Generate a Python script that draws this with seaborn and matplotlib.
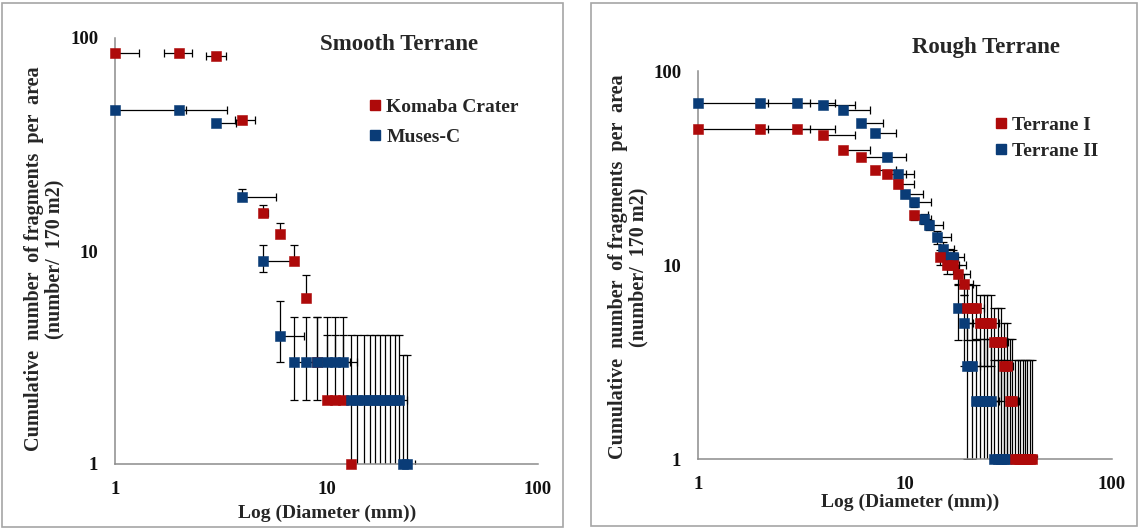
import matplotlib
matplotlib.use("Agg")
import matplotlib.pyplot as plt
import seaborn as sns
from matplotlib.lines import Line2D
from matplotlib.patches import Rectangle
from matplotlib.ticker import FixedLocator, NullLocator, FixedFormatter

# ---------------- data ----------------
# Smooth terrane: Komaba Crater
komaba_d = [1, 2, 3, 4, 5, 6, 7, 8, 9, 10, 11, 12, 13]
komaba_n = [85, 85, 82, 41, 15, 12, 9, 6, 3, 2, 2, 2, 1]
komaba_dx_lo = [0, 0.3, 0.3, 0.3, 0, 0, 0, 0, 0, 0, 0, 0, 0]
komaba_dx_hi = [0.3, 0.3, 0.35, 0.6, 0.3, 0, 0, 0, 0, 0, 0, 0, 0]
komaba_dn_lo = [0, 0, 0, 0, 0, 0, 0, 0, 1, 0, 0, 0, 0]
komaba_dn_hi = [0, 0, 0, 0, 1.5, 1.6, 1.7, 1.7, 1.9, 2.05, 2.05, 2.05, 0]

# Smooth terrane: Muses-C
muses_d = [1, 2, 3, 4, 5, 6, 7, 8, 9, 10, 11, 12,
           13, 14, 15, 16, 17, 18, 19, 20, 21, 22, 23, 24]
muses_n = [46, 46, 40, 18, 9, 4, 3, 3, 3, 3, 3, 3,
           2, 2, 2, 2, 2, 2, 2, 2, 2, 2, 1, 1]
muses_dx_lo = [0] * 24
muses_dx_hi = [1.17, 1.4, 0.75, 1.75, 1.95, 1.8, 1.9, 1.9, 1.9, 1.9, 1.9, 1.9,
               2, 2, 2, 2, 2, 2, 2, 2, 2, 2, 2.1, 2.1]
muses_dn_lo = [0, 0, 0, 0.3, 1.0, 1.0, 1, 1, 0, 0, 0, 0,
               1.95, 1.95, 1.95, 1.95, 1.95, 1.95, 1.95, 1.95, 1.95, 1.95, 0.95, 0.95]
muses_dn_hi = [0, 0, 0, 1.5, 1.7, 1.8, 1.9, 1.9, 1.9, 1.9, 1.9, 1.9,
               2.05, 2.05, 2.05, 2.05, 2.05, 2.05, 2.05, 2.05, 2.05, 2.05, 2.26, 2.26]

# Rough terrane: Terrane I
t1_d = [1, 2, 3, 4, 5, 6.1, 7.2, 8.2, 9.2, 11, 14.8, 16, 17, 18.1, 19.2,
        20, 21, 22, 23, 24, 25, 26, 27, 28, 29, 30, 31, 32, 33,
        34, 35, 36, 37, 38, 39, 40, 41]
t1_n = [50, 50, 50, 47, 39, 36, 31, 29.5, 26, 18, 11, 10, 10, 9, 8,
        6, 6, 6, 5, 5, 5, 5, 4, 4, 4, 3, 3, 2, 2,
        1, 1, 1, 1, 1, 1, 1, 1]
t1_dx_lo = [0] * 37
t1_dx_hi = [1.17, 1.47, 1.6, 1.75, 1.8, 1.75, 1.8, 1.9, 1.8, 1.9, 2, 2.2, 2.8, 2.5, 2.1,
            2, 2, 2, 2.3, 2.3, 2.3, 2.3, 2.6, 2.6, 2.6, 2.4, 2.4, 2.7, 2.7,
            2.5, 2.5, 2.5, 2.5, 2.5, 2.5, 2.5, 2.5]
t1_dn_lo = [0, 0, 0, 0, 0, 0, 0, 0, 1, 1, 1, 1, 1, 1, 1,
            1.9, 1.9, 1.9, 2, 2, 2, 2, 2, 2, 2, 2, 2, 1.95, 1.95,
            0.95, 0.95, 0.95, 0.95, 0.95, 0.95, 0.95, 0.95]
t1_dn_hi = [0, 0, 0, 0, 0, 0, 0, 0, 1, 1, 1, 1, 1, 1, 1,
            1.9, 1.9, 1.9, 2, 2, 2, 2, 2, 2, 2, 2, 2, 2.15, 2.15,
            2.24, 2.24, 2.24, 2.24, 2.24, 2.24, 2.24, 2.24]

# Rough terrane: Terrane II
t2_d = [1, 2, 3, 4, 5, 6.1, 7.2, 8.2, 9.2, 10, 11, 12.3, 13, 14.2, 15.3,
        16, 17, 18.1, 19.2, 20, 21, 22, 23, 24, 25, 26, 27, 28, 29, 30, 31]
t2_n = [68, 68, 68, 67, 63, 54, 48, 36, 29.4, 23.2, 21, 17.3, 16.1, 13.9, 12.1,
        11, 11, 6, 5, 3, 3, 2, 2, 2, 2, 2, 1, 1, 1, 1, 1]
t2_dx_lo = [0] * 31
t2_dx_hi = [1.17, 1.47, 1.6, 1.75, 1.8, 1.75, 1.8, 1.9, 1.8, 2.2, 2.4, 1.1, 2.2, 2.4, 2.0,
            2.0, 2.2, 2.0, 2.0, 2.1, 2.1, 2.3, 2.3, 2.3, 2.3, 2.3, 2, 2, 2, 2, 2]
t2_dn_lo = [0, 0, 0, 0, 0, 0, 0, 0, 0, 1, 1, 1, 1, 1, 1,
            1, 1, 1.9, 2, 2, 2, 1.95, 1.95, 1.95, 1.95, 1.95, 0.95, 0.95, 0.95, 0.95, 0.95]
t2_dn_hi = [0, 0, 0, 0, 0, 0, 0, 0, 0, 1, 1, 1, 1, 1, 1,
            1, 1, 1.9, 2, 2, 2, 2.15, 2.15, 2.15, 2.15, 2.15, 2.24, 2.24, 2.24, 2.24, 2.24]

tick_values = [1, 10, 100]
tick_labels = ["1", "10", "100"]

RED = "#AE0A0A"
BLUE = "#0A3C77"
AXIS_GREY = "#8c8c8c"
FRAME_GREY = "#a6a6a6"

# ---------------- style ----------------
sns.set_style("white")
plt.rcParams["font.family"] = ["Liberation Serif", "DejaVu Serif"]
plt.rcParams["font.weight"] = "bold"

W, H = 1139, 529
fig = plt.figure(figsize=(W / 100, H / 100), dpi=100)


def fx(px):
    return px / W


def fy(py):
    return 1 - py / H


def add_axes(x0, x1, y_top, y_bot):
    return fig.add_axes([fx(x0), fy(y_bot), fx(x1) - fx(x0), fy(y_top) - fy(y_bot)])


ax1 = add_axes(115, 538, 38, 464)
ax2 = add_axes(698, 1112, 71, 459)

# panel frames
for (x0, y0, x1, y1) in [(2, 3, 563, 527), (591, 3, 1137, 526)]:
    fig.add_artist(Rectangle((fx(x0), fy(y1)), fx(x1) - fx(x0), fy(y0) - fy(y1),
                             transform=fig.transFigure, fill=False,
                             edgecolor=FRAME_GREY, linewidth=1.2))


def draw_series(ax, d, n, dxl, dxh, dnl, dnh, color):
    ax.errorbar(d, n, xerr=[dxl, dxh], yerr=[dnl, dnh], fmt="none",
                ecolor="black", elinewidth=0.9, capsize=2.6, capthick=0.9, zorder=2)
    sns.scatterplot(x=d, y=n, ax=ax, marker="s", s=50, color=color,
                    edgecolor=color, linewidth=0.4, zorder=4, clip_on=False,
                    legend=False)


draw_series(ax1, komaba_d, komaba_n, komaba_dx_lo, komaba_dx_hi,
            komaba_dn_lo, komaba_dn_hi, RED)
draw_series(ax1, muses_d, muses_n, muses_dx_lo, muses_dx_hi,
            muses_dn_lo, muses_dn_hi, BLUE)
draw_series(ax2, t2_d, t2_n, t2_dx_lo, t2_dx_hi, t2_dn_lo, t2_dn_hi, BLUE)
draw_series(ax2, t1_d, t1_n, t1_dx_lo, t1_dx_hi, t1_dn_lo, t1_dn_hi, RED)

for ax in (ax1, ax2):
    ax.set_xscale("log")
    ax.set_yscale("log")
    ax.set_xlim(1, 100)
    ax.set_ylim(1, 100)
    for axis in (ax.xaxis, ax.yaxis):
        axis.set_major_locator(FixedLocator(tick_values))
        axis.set_major_formatter(FixedFormatter(tick_labels))
        axis.set_minor_locator(NullLocator())
    for s in ("top", "right"):
        ax.spines[s].set_visible(False)
    for s in ("left", "bottom"):
        ax.spines[s].set_color(AXIS_GREY)
        ax.spines[s].set_linewidth(1.1)
    ax.tick_params(which="major", direction="out", length=4, width=1.1,
                   color=AXIS_GREY, labelsize=13.5, pad=8, labelcolor="#111111")
    for lab in ax.get_xticklabels() + ax.get_yticklabels():
        lab.set_fontweight("bold")
    ax.set_facecolor("none")
    ax.grid(False)

# titles
fig.text(fx(399), fy(45), "Smooth Terrane", ha="center", va="center",
         fontsize=16.5, fontweight="bold")
fig.text(fx(986), fy(48), "Rough Terrane", ha="center", va="center",
         fontsize=16.5, fontweight="bold")

# axis labels
fig.text(fx(327), fy(513), "Log (Diameter (mm))", ha="center", va="center",
         fontsize=14, fontweight="bold")
fig.text(fx(910), fy(502), "Log (Diameter (mm))", ha="center", va="center",
         fontsize=14, fontweight="bold")
ylab = "Cumulative  number  of fragments  per  area\n(number/  170 m2)"
fig.text(fx(44), fy(259), ylab, ha="center", va="center", rotation=90,
         fontsize=14.5, fontweight="bold", linespacing=1.0, multialignment="center")
fig.text(fx(628), fy(267), ylab, ha="center", va="center", rotation=90,
         fontsize=14.5, fontweight="bold", linespacing=1.0, multialignment="center")


# legends
def square_handle(color):
    return Line2D([], [], marker="s", linestyle="none", markersize=6.8,
                  markerfacecolor=color, markeredgecolor=color)


ax1.legend([square_handle(RED), square_handle(BLUE)],
           ["Komaba Crater", "Muses-C"],
           loc="center left", bbox_to_anchor=(fx(368), fy(122)),
           bbox_transform=fig.transFigure, frameon=False,
           borderpad=0, borderaxespad=0, handlelength=0.7,
           handletextpad=0.25, labelspacing=0.65,
           prop={"size": 14, "weight": "bold"})
ax2.legend([square_handle(RED), square_handle(BLUE)],
           ["Terrane I", "Terrane II"],
           loc="center left", bbox_to_anchor=(fx(994), fy(138)),
           bbox_transform=fig.transFigure, frameon=False,
           borderpad=0, borderaxespad=0, handlelength=0.7,
           handletextpad=0.25, labelspacing=0.45,
           prop={"size": 14, "weight": "bold"})

fig.savefig("out.png", dpi=100)
